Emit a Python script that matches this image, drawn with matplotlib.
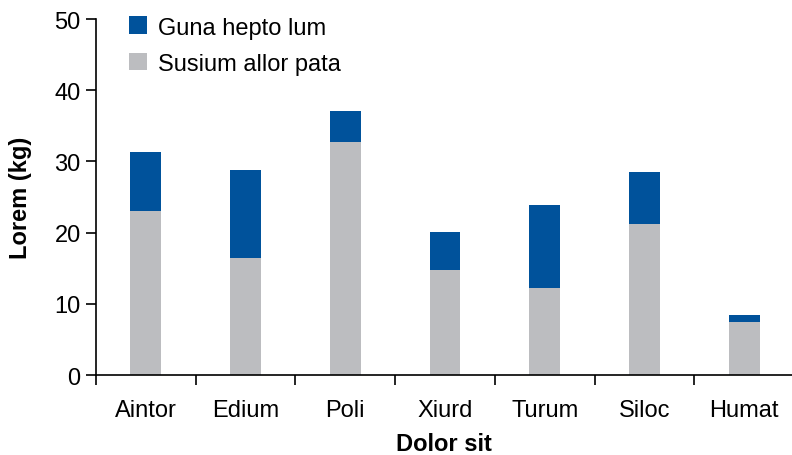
import matplotlib.pyplot as plt
import numpy as np

categories = ['Aintor', 'Edium', 'Poli', 'Xiurd', 'Turum', 'Siloc', 'Humat']
susium = [23.0, 16.4, 32.7, 14.7, 12.2, 21.2, 7.4]
guna = [8.3, 12.4, 4.4, 5.4, 11.7, 7.3, 1.0]

blue = '#00529B'
gray = '#BCBDC0'

plt.rcParams['font.family'] = ['Liberation Sans', 'DejaVu Sans']

fig = plt.figure(figsize=(7.92, 4.56), dpi=100)
ax = fig.add_axes([0.1212, 0.1754, 0.8788, 0.7807])

x = np.arange(len(categories))
ax.bar(x, susium, width=0.31, color=gray, label='Susium allor pata')
ax.bar(x, guna, width=0.31, bottom=susium, color=blue, label='Guna hepto lum')

ax.set_xlim(-0.5, 6.48)
ax.set_ylim(0, 50)
ax.set_yticks(range(0, 51, 10))
ax.set_xticks(x)
ax.set_xticklabels(categories)
ax.set_xticks(np.arange(-0.5, 6, 1), minor=True)
ax.tick_params(axis='x', which='major', length=0, pad=17, labelsize=17)
ax.tick_params(axis='x', which='minor', length=7, width=1.2, direction='out')
ax.tick_params(axis='y', length=7, width=1.2, pad=4, labelsize=17)

for s in ['top', 'right']:
    ax.spines[s].set_visible(False)
for s in ['left', 'bottom']:
    ax.spines[s].set_linewidth(1.2)

ax.set_xlabel('Dolor sit', fontsize=17, fontweight='bold', labelpad=8)
ax.set_ylabel('Lorem (kg)', fontsize=17, fontweight='bold', labelpad=16)

handles, labels = ax.get_legend_handles_labels()
ax.legend(handles[::-1], labels[::-1], loc='upper left', bbox_to_anchor=(0.017, 1.067),
          frameon=False, fontsize=17, handlelength=0.78, handleheight=0.78,
          labelspacing=0.6, handletextpad=0.45)

plt.savefig('out.png', dpi=100)
